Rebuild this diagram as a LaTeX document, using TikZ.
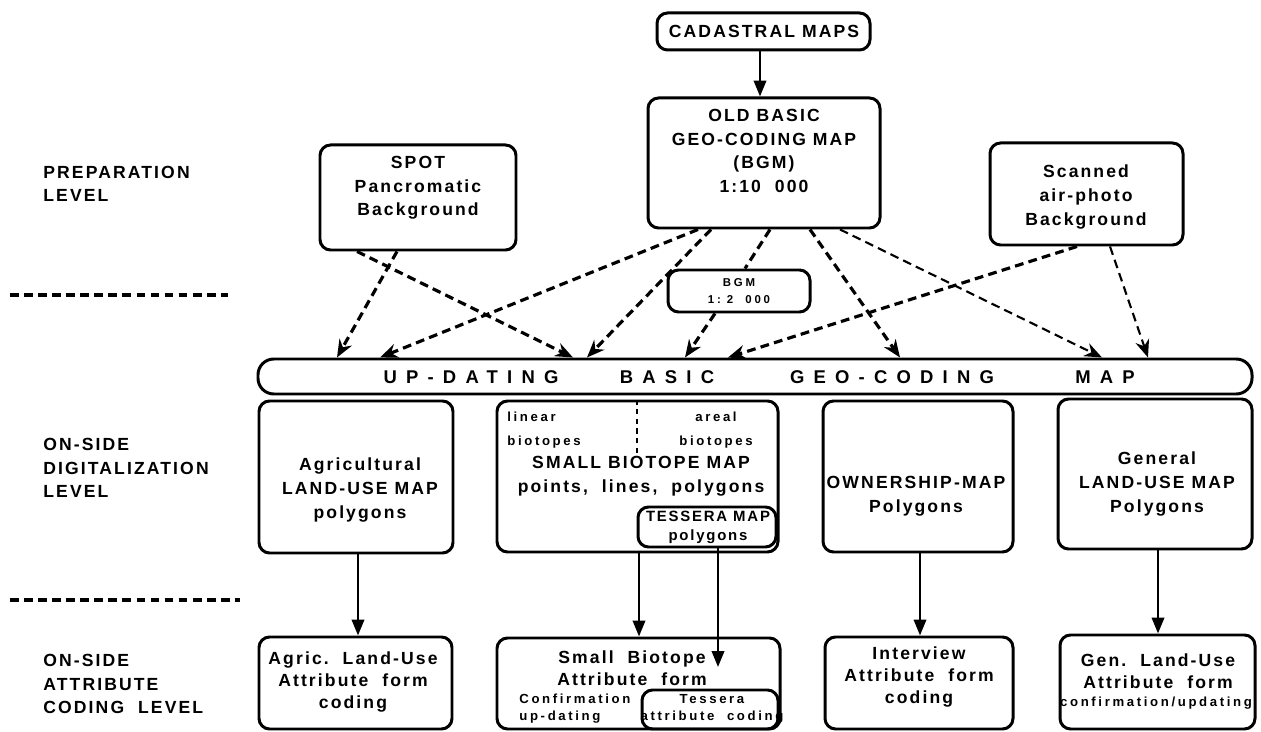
\documentclass[tikz,border=0pt]{standalone}
\usepackage{fontspec}
\setmainfont{Liberation Sans}[LetterSpace=12]
\usetikzlibrary{arrows.meta,fit}
\newcommand{\boxfont}{\fontsize{10}{13.4}\selectfont\bfseries}
\newcommand{\formfont}{\fontsize{10}{12.3}\selectfont\bfseries}
\newcommand{\notefont}{\fontsize{7.5}{9.6}\selectfont\bfseries\addfontfeature{LetterSpace=20}}
\newcommand{\tinyfont}{\fontsize{6.5}{10}\selectfont\bfseries\addfontfeature{LetterSpace=25}}
\newcommand{\barfont}{\fontsize{10.5}{12}\selectfont\bfseries\addfontfeature{LetterSpace=50}}

\begin{document}
\begin{tikzpicture}[x=0.02cm, y=-0.02cm,
  box/.style={draw, line width=1.7pt, rounded corners=6pt, inner sep=0pt},
  txt/.style={font=\boxfont, align=center, inner sep=0pt},
  txtform/.style={font=\formfont, align=center, inner sep=0pt},
  note/.style={font=\notefont, align=center, inner sep=0pt},
  tinytxt/.style={font=\tinyfont, align=center, inner sep=0pt},
  bartxt/.style={font=\barfont, inner sep=0pt},
  level/.style={font=\boxfont, align=left, anchor=west, inner sep=0pt},
  feed/.style={line width=1.8pt, dash pattern=on 5pt off 3pt, -{Stealth[length=10pt,width=8pt]}},
  thinfeed/.style={feed, line width=1.2pt},
  down/.style={line width=1.4pt, -{Triangle[length=9pt,width=7pt]}},
  sepline/.style={line width=2.2pt, dash pattern=on 5pt off 3pt}]
  \useasboundingbox (0,0) rectangle (1261,732);

  % level labels and separators
  \node[level] (prep) at (43,184) {PREPARATION\\LEVEL};
  \node[level] (digi) at (43,468) {ON-SIDE\\DIGITALIZATION\\LEVEL};
  \node[level] (attr) at (43,684) {ON-SIDE\\ATTRIBUTE\\CODING~~LEVEL};
  \draw[sepline] (10,295) -- (228,295);
  \draw[sepline] (10,600) -- (240,600);

  % preparation level
  \node[box, fit={(657,13) (870,50)}] (cad) {};
  \node[txt] (cad-t) at (764,31) {CADASTRAL MAPS};
  \node[box, fit={(648,98) (880,228)}] (old) {};
  \node[txt] (old-t) at (764,151) {OLD BASIC\\GEO-CODING MAP\\(BGM)\\1:10~~000};
  \node[box, fit={(320,145) (516,250)}] (spot) {};
  \node[txt] (spot-t) at (418,188) {SPOT\\Pancromatic\\Background};
  \node[box, fit={(990,143) (1183,245)}] (scan) {};
  \node[txt] (scan-t) at (1086,197) {Scanned\\air-photo\\Background};
  \node[box, fit={(668,270) (810,312)}] (bgm) {};
  \node[tinytxt] (bgm-t) at (739,291) {BGM\\1:~2~~000};

  % up-dating bar
  \node[box, rounded corners=9pt, fit={(258,359) (1252,394)}] (bar) {};
  \node[bartxt] (bar-1) at (471,377) {UP-DATING};
  \node[bartxt] (bar-2) at (667,377) {BASIC};
  \node[bartxt] (bar-3) at (892,377) {GEO-CODING};
  \node[bartxt] (bar-4) at (1105,377) {MAP};

  % on-side digitalization level
  \node[box, fit={(259,401) (453,553)}] (agric) {};
  \node[txt] (agric-t) at (360,490) {Agricultural\\LAND-USE MAP\\polygons};
  \node[box, fit={(497,401) (778,552)}] (sbm) {};
  \node[note, anchor=west, align=left] (lin-t) at (507,430) {linear\\[4pt]biotopes};
  \node[note] (are-t) at (716,430) {areal\\[4pt]biotopes};
  \node[txt] (sbm-t) at (641,476) {SMALL BIOTOPE MAP\\points,~~lines,~~polygons};
  \node[box, fit={(638,507) (776,547)}] (tess) {};
  \node[note, font=\fontsize{8.5}{10.8}\selectfont\bfseries] (tess-t) at (708,527) {TESSERA MAP\\polygons};
  \node[box, fit={(823,401) (1013,552)}] (own) {};
  \node[txt] (own-t) at (916,496) {OWNERSHIP-MAP\\Polygons};
  \node[box, fit={(1058,399) (1252,549)}] (gen) {};
  \node[txt] (gen-t) at (1157,484) {General\\LAND-USE MAP\\Polygons};
  \coordinate (sbm-mid) at (637,455);
  \draw[line width=1.4pt, dash pattern=on 3pt off 2.5pt] (sbm.north -| sbm-mid) -- (sbm-mid);

  % on-side attribute coding level
  \node[box, fit={(259,637) (452,729)}] (agricf) {};
  \node[txtform] (agricf-t) at (353,682) {Agric.~~Land-Use\\Attribute~~form\\coding};
  \node[box, fit={(497,638) (780,729)}] (sbf) {};
  \node[txtform] (sbf-t) at (632,668) {Small~~Biotope\\Attribute~~form};
  \node[note, anchor=west, align=left] (conf-t) at (519,709) {Confirmation\\up-dating};
  \node[box, fit={(642,690) (778,729)}] (tessf) {};
  \node[note] (tessf-t) at (712,709) {Tessera\\attribute~~coding};
  \node[box, fit={(825,637) (1013,729)}] (intf) {};
  \node[txtform] (intf-t) at (919,677) {Interview\\Attribute~~form\\coding};
  \node[box, fit={(1060,635) (1255,729)}] (genf) {};
  \node[txtform] (genf-t) at (1158,671) {Gen.~~Land-Use\\Attribute~~form};
  \node[note] (genf-n) at (1156,703) {confirmation/updating};

  % feeds into the up-dating bar
  \draw[down] (cad.south -| 760,0) -- (old.north -| 760,0);
  \draw[feed] (spot.south -| 397,0) -- (bar.north -| 337,0);
  \draw[feed] (spot.south -| 357,0) -- (bar.north -| 573,0);
  \draw[feed] (old.south -| 698,0) -- (bar.north -| 380,0);
  \draw[feed] (old.south -| 711,0) -- (bar.north -| 587,0);
  \draw[feed, -] (old.south -| 770,0) -- (bgm.north -| 745,0);
  \draw[feed] (bgm.south -| 715,0) -- (bar.north -| 685,0);
  \draw[feed] (old.south -| 810,0) -- (bar.north -| 900,0);
  \draw[thinfeed] (old.south -| 840,0) -- (bar.north -| 1102,0);
  \draw[feed] (scan.south -| 1077,0) -- (bar.north -| 728,0);
  \draw[thinfeed] (scan.south -| 1110,0) -- (bar.north -| 1148,0);

  % maps to attribute forms
  \coordinate (tess-tip) at (718,667);
  \draw[down] (agric.south -| 358,0) -- (agricf.north -| 358,0);
  \draw[down] (sbm.south -| 639,0) -- (sbf.north -| 639,0);
  \draw[down] (tess.south -| tess-tip) -- (tess-tip);
  \draw[down] (own.south -| 920,0) -- (intf.north -| 920,0);
  \draw[down] (gen.south -| 1158,0) -- (genf.north -| 1158,0);
\end{tikzpicture}
\end{document}
